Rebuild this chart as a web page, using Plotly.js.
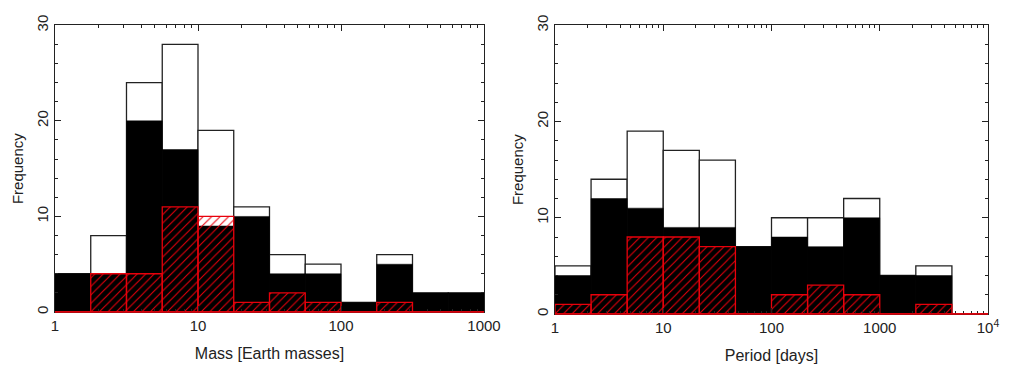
<!DOCTYPE html>
<html>
<head>
<meta charset="utf-8">
<script src="https://cdn.plot.ly/plotly-3.0.1.min.js"></script>
<style>html,body{margin:0;padding:0;background:#fff;}#plot{width:1012px;height:388px;}</style>
</head>
<body>
<div id="plot"></div>
<script>
// Mass histogram (bins of 0.25 dex)
const massEdges = [1, 1.778, 3.162, 5.623, 10, 17.78, 31.62, 56.23, 100, 177.8, 316.2, 562.3, 1000];
const massAll   = [4, 8, 24, 28, 19, 11, 6, 5, 1, 6, 2, 2];
const massBlack = [4, 4, 20, 17, 9, 10, 4, 4, 1, 5, 2, 2];
const massRed   = [0, 4, 4, 11, 10, 1, 2, 1, 0, 1, 0, 0];

// Period histogram (bins of 1/3 dex)
const perEdges = [1, 2.154, 4.642, 10, 21.54, 46.42, 100, 215.4, 464.2, 1000, 2154, 4642, 10000];
const perAll   = [5, 14, 19, 17, 16, 7, 10, 10, 12, 4, 5, 0];
const perBlack = [4, 12, 11, 9, 9, 7, 8, 7, 10, 4, 4, 0];
const perRed   = [1, 2, 8, 8, 7, 0, 2, 3, 2, 0, 1, 0];

const massTicks = [1, 10, 100, 1000];
const massTickText = ['1', '10', '100', '1000'];
const perTicks = [1, 10, 100, 1000, 10000];
const perTickText = ['1', '10', '100', '1000', '10<sup>4</sup>'];
const yTicks = [0, 10, 20, 30];

const RED = '#e8000b';
const INK = '#222';

function lefts(e){ return e.slice(0, -1); }
function widths(e){ return e.slice(1).map((v,i)=>v - e[i]); }

function hist(edges, vals, kind, xa, ya){
  const t = {type:'bar', x:lefts(edges), y:vals, width:widths(edges), offset:0,
             xaxis:xa, yaxis:ya, hoverinfo:'skip', showlegend:false};
  if(kind==='all'){
    t.marker = {color:'#ffffff', line:{color:INK, width:1.3}};
  } else if(kind==='black'){
    t.marker = {color:'#000000', line:{color:'#000000', width:0.5}};
  } else {
    t.marker = {color:'rgba(0,0,0,0)', line:{color:RED, width:1.3},
                pattern:{shape:'/', fgcolor:RED, bgcolor:'rgba(0,0,0,0)', size:6, solidity:0.18, fillmode:'replace'}};
  }
  return t;
}

function minorLog(maxDec){
  const out = [];
  for(let d=0; d<maxDec; d++){ for(let k=2;k<=9;k++){ out.push(k*Math.pow(10,d)); } }
  return out;
}

const data = [
  hist(massEdges, massAll, 'all', 'x', 'y'),
  hist(massEdges, massBlack, 'black', 'x', 'y'),
  hist(massEdges, massRed, 'red', 'x', 'y'),
  hist(perEdges, perAll, 'all', 'x2', 'y2'),
  hist(perEdges, perBlack, 'black', 'x2', 'y2'),
  hist(perEdges, perRed, 'red', 'x2', 'y2')
];

const font = {family:'Liberation Sans, Arial, sans-serif', size:15, color:INK};
const tfont = {family:'Liberation Sans, Arial, sans-serif', size:16, color:INK};

const xDom1 = [55/1012, 484/1012], yDom1 = [1-312/388, 1-25.3/388];
const xDom2 = [555/1012, 988/1012], yDom2 = [1-314/388, 1-25.3/388];

function xax(domain, anchor, ticks, text, title, nDec){
  return {type:'log', domain:domain, anchor:anchor, range:[0, nDec], tickmode:'array', tickvals:ticks, ticktext:text,
    ticks:'inside', ticklen:6, tickwidth:1, tickcolor:INK, showline:true, linecolor:INK, linewidth:1.2, mirror:'ticks',
    showgrid:false, zeroline:false, tickfont:font,
    minor:{tickmode:'array', tickvals:minorLog(nDec), ticks:'inside', ticklen:3, tickwidth:1, tickcolor:INK, showgrid:false},
    title:{text:title, font:tfont, standoff:14}};
}
function yax(domain, anchor){
  return {domain:domain, anchor:anchor, range:[0,30], tickmode:'array', tickvals:yTicks, tickangle:-90,
    ticks:'inside', ticklen:6, tickwidth:1, tickcolor:INK, showline:true, linecolor:INK, linewidth:1.2, mirror:'ticks',
    showgrid:false, zeroline:false, tickfont:font,
    minor:{dtick:2, ticks:'inside', ticklen:3, tickwidth:1, tickcolor:INK, showgrid:false},
    title:{text:'Frequency', font:font, standoff:6}};
}

const layout = {
  width:1012, height:388, margin:{l:0, r:0, t:0, b:0}, paper_bgcolor:'#fff', plot_bgcolor:'#fff',
  barmode:'overlay', bargap:0, font:font, showlegend:false,
  xaxis: xax(xDom1, 'y', massTicks, massTickText, 'Mass [Earth masses]', 3),
  yaxis: yax(yDom1, 'x'),
  xaxis2: xax(xDom2, 'y2', perTicks, perTickText, 'Period [days]', 4),
  yaxis2: yax(yDom2, 'x2'),
  shapes: [
    {type:'line', xref:'paper', yref:'paper', x0:xDom1[0], x1:xDom1[1], y0:yDom1[0], y1:yDom1[0], layer:'above', line:{color:RED, width:1.6}},
    {type:'line', xref:'paper', yref:'paper', x0:xDom2[0], x1:xDom2[1], y0:yDom2[0], y1:yDom2[0], layer:'above', line:{color:RED, width:1.6}}
  ]
};

Plotly.newPlot('plot', data, layout, {displayModeBar:false, staticPlot:true});
</script>
</body>
</html>
